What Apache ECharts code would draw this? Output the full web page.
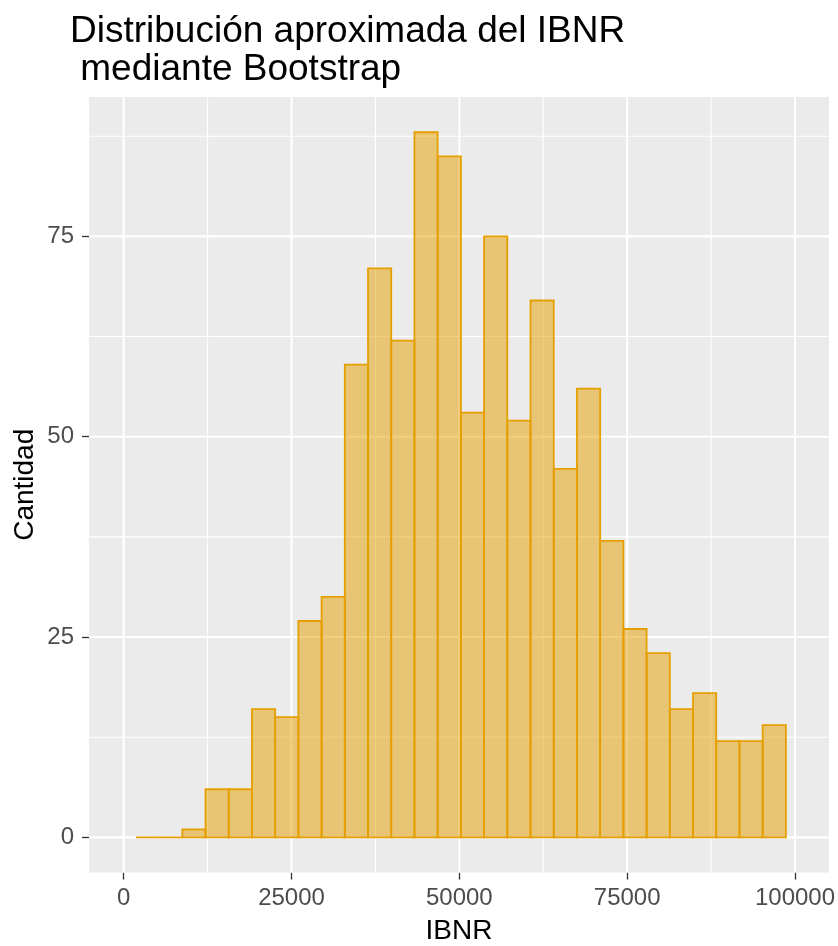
<!DOCTYPE html>
<html><head><meta charset="utf-8">
<script src="https://cdn.jsdelivr.net/npm/echarts@6/dist/echarts.min.js"></script>
<style>html,body{margin:0;padding:0;background:#fff}#c{width:838px;height:946px}</style>
</head><body><div id="c"></div>
<script>
const titleText = 'Distribución aproximada del IBNR\n mediante Bootstrap';
const xName = 'IBNR';
const yName = 'Cantidad';
const binStart = 1816;
const binWidth = 3458;
const counts = [0,0,1,6,6,16,15,27,30,59,71,62,88,85,53,75,52,67,46,56,37,26,23,16,18,12,12,14];
const xTicks = [0,25000,50000,75000,100000];
const yTicks = [0,25,50,75];
const xMinor = [12500,37500,62500,87500];
const yMinor = [12.5,37.5,62.5,87.5];

const FONT = '"Liberation Sans", Arial, sans-serif';
const barData = counts.map((c,i)=>[binStart+i*binWidth, binStart+(i+1)*binWidth, c]);
const xGridData = xTicks.map(v=>[v,0,1]).concat(xMinor.map(v=>[v,0,0]));
const yGridData = yTicks.map(v=>[0,v,1]).concat(yMinor.map(v=>[0,v,0]));

function gridRender(vertical){
  return function(params, api){
    const cs = params.coordSys;
    const p = api.coord([api.value(0), api.value(1)]);
    const w = api.value(2) ? 2.1 : 1.1;
    const shape = vertical
      ? {x1:p[0], y1:cs.y, x2:p[0], y2:cs.y+cs.height}
      : {x1:cs.x, y1:p[1], x2:cs.x+cs.width, y2:p[1]};
    return {type:'line', shape, style:{stroke:'#FFFFFF', lineWidth:w}, silent:true};
  };
}

const chart = echarts.init(document.getElementById('c'), null, {renderer:'canvas'});
chart.setOption({
  animation:false,
  backgroundColor:'#FFFFFF',
  title:{
    text:titleText, left:70, top:13, padding:0,
    textStyle:{fontFamily:FONT, fontSize:37, fontWeight:'normal', color:'#000000', lineHeight:38}
  },
  grid:{left:89, top:97, width:740, height:775.6, show:true, backgroundColor:'#EBEBEB', borderWidth:0,
        containLabel:false, outerBoundsMode:'none'},
  xAxis:{
    type:'value', min:-5167, max:105063,
    name:xName, nameLocation:'middle', nameGap:45, nameMoveOverlap:false,
    nameTextStyle:{fontFamily:FONT, fontSize:28, color:'#000000'},
    axisLine:{show:false, onZero:false},
    axisTick:{show:true, length:7, lineStyle:{color:'#333333', width:1.3}, customValues:xTicks},
    axisLabel:{fontFamily:FONT, fontSize:24, color:'#4D4D4D', margin:14, customValues:xTicks, formatter:v=>String(v)},
    splitLine:{show:false}
  },
  yAxis:{
    type:'value', min:-4.4, max:92.4,
    name:yName, nameLocation:'middle', nameGap:50, nameRotate:90, nameMoveOverlap:false,
    nameTextStyle:{fontFamily:FONT, fontSize:28, color:'#000000'},
    axisLine:{show:false, onZero:false},
    axisTick:{show:true, length:7, lineStyle:{color:'#333333', width:1.3}, customValues:yTicks},
    axisLabel:{fontFamily:FONT, fontSize:24, color:'#4D4D4D', margin:15, customValues:yTicks, formatter:v=>String(v)},
    splitLine:{show:false}
  },
  series:[
    {type:'custom', z:1, silent:true, renderItem:gridRender(true), data:xGridData, encode:{x:0,y:1}},
    {type:'custom', z:1, silent:true, renderItem:gridRender(false), data:yGridData, encode:{x:0,y:1}},
    {type:'custom', z:3, data:barData, encode:{x:[0,1], y:2},
     renderItem:function(params, api){
       const p0 = api.coord([api.value(0), api.value(2)]);
       const p1 = api.coord([api.value(1), 0]);
       return {type:'rect', shape:{x:p0[0], y:p0[1], width:p1[0]-p0[0], height:p1[1]-p0[1]},
         style:{fill:'rgba(230,159,0,0.5)', stroke:'#E69F00', lineWidth:1.8}};
     }}
  ]
});
</script></body></html>
